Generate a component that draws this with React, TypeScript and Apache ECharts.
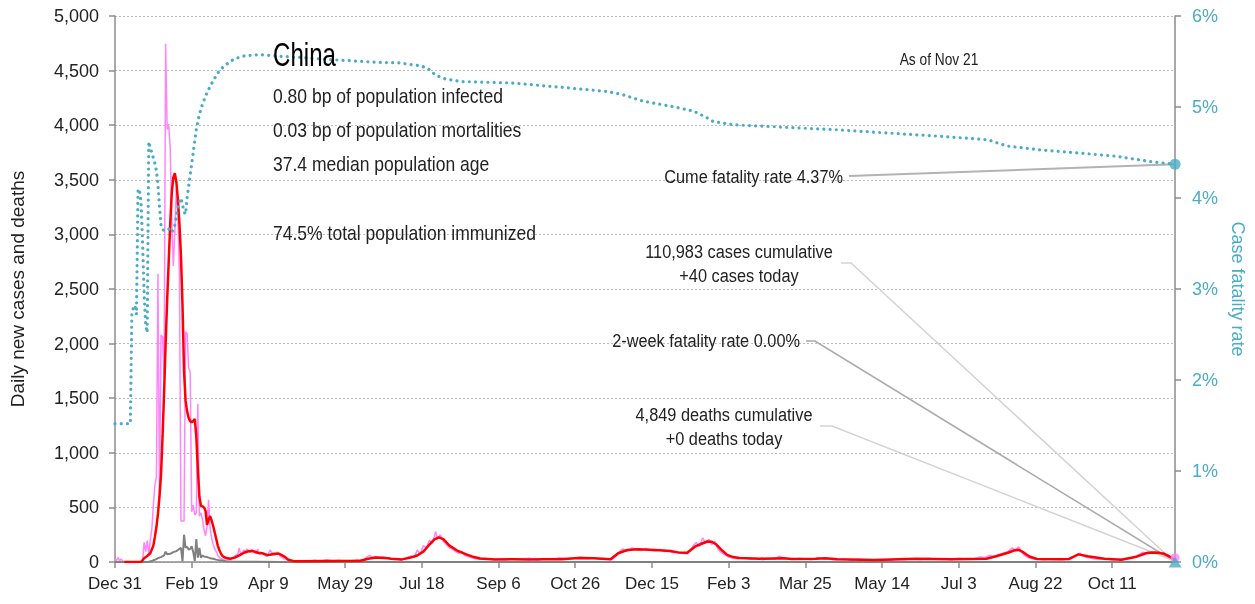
import React, { useEffect, useRef } from 'react';
import * as echarts from 'echarts';

const FONT = "'Liberation Sans', Arial, sans-serif";

// x axis: days since Dec 31, 2019
const tickStep = 50;
const lastDay = 691;
const xTickLabels = ['Dec 31', 'Feb 19', 'Apr 9', 'May 29', 'Jul 18', 'Sep 6', 'Oct 26', 'Dec 15', 'Feb 3', 'Mar 25', 'May 14', 'Jul 3', 'Aug 22', 'Oct 11'];

// daily new cases [day, cases]
const dailyCases: [number, number][] = [
  [0, 30], [1, 12], [2, 40], [3, 8], [4, 28], [5, 10], [6, 0], [10, 0], [14, 0], [17, 0], [18, 10], [19, 180], [20, 95], [21, 195], [22, 70],
  [23, 200], [24, 300], [25, 520], [26, 700], [27, 780], [28, 2640], [29, 580], [30, 2080], [31, 2060], [32, 1690], [33, 4745],
  [34, 3960], [35, 4010], [36, 3790], [37, 3120], [38, 2710], [39, 3030], [40, 3420], [41, 3180], [42, 2620], [43, 375], [44, 375],
  [45, 375], [46, 2110], [47, 2090], [48, 1780], [49, 1740], [50, 460], [51, 520], [52, 430], [53, 450], [54, 1450], [55, 420],
  [56, 450], [57, 390], [58, 300], [59, 240], [60, 330], [61, 570], [62, 310], [63, 220], [64, 160], [65, 120], [66, 95], [67, 60],
  [68, 40], [69, 30], [70, 25], [72, 15], [74, 25], [76, 30], [78, 55], [80, 70], [81, 130], [82, 60], [84, 110], [85, 95], [86, 120],
  [88, 90], [89, 115], [90, 100], [92, 80], [93, 120], [94, 70], [96, 85], [98, 60], [99, 50], [100, 75], [101, 110], [102, 90],
  [104, 60], [105, 80], [106, 90], [108, 50], [110, 30], [112, 20], [114, 15], [116, 8], [118, 10], [120, 5], [122, 12], [126, 5],
  [130, 15], [134, 8], [138, 20], [142, 10], [146, 15], [150, 6], [154, 12], [158, 20], [162, 10], [164, 45], [166, 60], [168, 40],
  [170, 50], [172, 35], [175, 30], [178, 40], [181, 25], [184, 30], [187, 20], [190, 35], [193, 55], [195, 40], [197, 110], [199, 70],
  [201, 150], [203, 130], [205, 200], [207, 170], [209, 280], [210, 210], [212, 250], [214, 190], [216, 160], [218, 130], [220, 115],
  [222, 95], [224, 80], [226, 100], [228, 60], [230, 50], [232, 40], [235, 30], [238, 25], [242, 30], [246, 22], [250, 28], [255, 20],
  [260, 30], [265, 25], [270, 35], [275, 18], [280, 30], [285, 25], [290, 40], [295, 30], [300, 35], [304, 45], [308, 30], [312, 40],
  [316, 28], [320, 30], [324, 20], [327, 60], [329, 95], [331, 120], [334, 100], [337, 130], [340, 115], [343, 105], [346, 125],
  [349, 110], [352, 100], [355, 115], [358, 95], [361, 100], [364, 85], [367, 90], [370, 80], [373, 75], [375, 110], [377, 150],
  [379, 180], [381, 140], [383, 220], [385, 170], [387, 210], [389, 160], [391, 190], [393, 120], [395, 90], [397, 70], [400, 45],
  [403, 35], [406, 30], [410, 40], [414, 25], [418, 35], [422, 20], [426, 30], [430, 25], [433, 55], [435, 40], [438, 30], [442, 25],
  [446, 35], [450, 28], [454, 20], [458, 40], [462, 30], [466, 25], [470, 20], [475, 30], [480, 15], [485, 25], [490, 18], [495, 12],
  [500, 20], [505, 15], [510, 25], [515, 20], [520, 30], [525, 22], [530, 35], [535, 25], [540, 30], [545, 20], [550, 35], [555, 28],
  [560, 30], [564, 45], [567, 40], [570, 60], [573, 50], [576, 70], [579, 80], [582, 95], [585, 130], [587, 110], [589, 140],
  [591, 90], [593, 60], [595, 40], [598, 30], [602, 25], [606, 20], [610, 30], [614, 25], [618, 20], [622, 35], [625, 50], [627, 65],
  [629, 80], [631, 55], [634, 40], [638, 30], [642, 25], [646, 30], [650, 20], [654, 25], [658, 30], [662, 35], [665, 50], [668, 70],
  [670, 90], [672, 75], [674, 100], [676, 80], [678, 95], [680, 70], [682, 85], [684, 60], [686, 70], [688, 45], [690, 55], [691, 40],
];

// 7-day average of new cases [day, cases]
const avgCases: [number, number][] = [
  [6, 0], [17, 0], [19, 35], [21, 55], [23, 80], [25, 150], [26, 230], [27, 320], [28, 440], [29, 600], [30, 800], [31, 1150],
  [32, 1550], [33, 2000], [34, 2400], [35, 2750], [36, 3100], [37, 3380], [38, 3520], [39, 3560], [40, 3480], [41, 3320],
  [42, 3100], [43, 2800], [44, 2350], [45, 1750], [46, 1480], [47, 1380], [48, 1320], [49, 1290], [50, 1280], [51, 1290],
  [52, 1310], [53, 1150], [54, 850], [55, 600], [56, 515], [57, 510], [58, 500], [59, 470], [60, 340], [61, 390], [62, 420],
  [63, 380], [64, 330], [65, 270], [66, 210], [67, 150], [68, 110], [69, 80], [70, 55], [72, 38], [75, 30], [78, 40], [81, 60],
  [84, 85], [87, 98], [90, 100], [93, 85], [96, 80], [99, 65], [101, 66], [104, 76], [107, 75], [109, 60], [111, 45], [113, 20],
  [116, 10], [120, 8], [140, 10], [160, 12], [165, 30], [170, 42], [175, 38], [180, 30], [187, 24], [192, 38], [197, 60],
  [201, 95], [205, 160], [208, 205], [211, 225], [214, 210], [218, 150], [223, 105], [229, 70], [234, 45], [238, 32], [248, 24],
  [260, 25], [270, 22], [280, 25], [291, 26], [302, 36], [312, 35], [323, 25], [328, 80], [334, 110], [341, 116], [348, 112],
  [355, 108], [362, 100], [367, 88], [373, 84], [378, 140], [382, 165], [386, 188], [389, 185], [392, 160], [395, 115], [399, 65],
  [403, 45], [407, 36], [420, 30], [436, 35], [441, 28], [457, 30], [463, 35], [471, 25], [495, 18], [522, 30], [545, 25],
  [568, 30], [575, 55], [582, 85], [586, 105], [589, 112], [592, 90], [596, 50], [601, 28], [615, 25], [622, 28], [628, 70],
  [634, 52], [645, 30], [656, 20], [665, 45], [672, 80], [676, 88], [680, 85], [684, 75], [688, 45], [691, 15],
];

// daily deaths [day, deaths]
const dailyDeaths: [number, number][] = [
  [0, 0], [20, 0], [22, 3], [24, 10], [26, 20], [28, 35], [30, 45], [32, 60], [33, 95], [34, 70], [36, 75], [38, 90], [40, 100],
  [41, 110], [42, 120], [43, 130], [44, 5], [45, 250], [46, 130], [47, 140], [48, 115], [49, 120], [50, 145], [51, 90], [52, 10],
  [53, 210], [54, 40], [55, 130], [56, 40], [57, 60], [58, 50], [60, 45], [62, 35], [64, 30], [66, 22], [68, 15], [70, 12],
  [72, 8], [76, 5], [80, 3], [90, 2], [110, 1], [200, 1], [400, 1], [691, 0],
];

// cumulative case fatality rate [day, %]
const fatalityRate: [number, number][] = [
  [0, 1.52], [10, 1.52], [11, 2.75], [12, 2.79], [13, 2.82], [14, 2.72], [15, 4.1], [16, 4.08], [17, 3.95], [18, 3.5], [19, 2.95],
  [20, 2.6], [21, 2.52], [22, 4.62], [23, 4.55], [24, 4.5], [25, 4.44], [26, 4.38], [27, 4.3], [28, 4.15], [29, 3.9], [30, 3.7],
  [31, 3.65], [33, 3.64], [35, 3.66], [37, 3.62], [39, 3.7], [41, 3.9], [43, 4.0], [45, 3.85], [46, 3.82], [47, 4.0], [49, 4.25],
  [51, 4.5], [53, 4.75], [55, 4.92], [57, 5.03], [60, 5.16], [64, 5.29], [68, 5.4], [72, 5.46], [76, 5.51], [80, 5.54],
  [85, 5.565], [95, 5.575], [105, 5.56], [120, 5.545], [141, 5.52], [172, 5.49], [185, 5.485], [200, 5.45], [205, 5.41],
  [209, 5.35], [215, 5.31], [225, 5.28], [258, 5.265], [295, 5.21], [321, 5.17], [331, 5.135], [344, 5.065], [365, 5.0],
  [377, 4.955], [385, 4.89], [390, 4.84], [403, 4.805], [470, 4.75], [536, 4.68], [569, 4.64], [576, 4.6], [582, 4.57],
  [602, 4.53], [652, 4.46], [675, 4.4], [691, 4.37],
];

const twoWeekFatality = 0.0;
const todayCases = 40;

const titleText = 'China';
const infoLines = [
  '0.80 bp of population infected',
  '0.03 bp of population mortalities',
  '37.4 median population age',
  '',
  '74.5% total population immunized',
];
const asOfText = 'As of Nov 21';
const cumeText = 'Cume fatality rate 4.37%';
const casesText = ['110,983 cases cumulative', '+40 cases today'];
const twoWeekText = '2-week fatality rate 0.00%';
const deathsText = ['4,849 deaths cumulative', '+0 deaths today'];

const TEAL = '#4BACC6';
const PINK = '#FF85FF';
const RED = '#FF0000';
const GREY = '#808080';
const AXIS = '#8c8c8c';
const TXT = '#222222';

export default function App() {
  const ref = useRef<HTMLDivElement>(null);
  useEffect(() => {
    if (!ref.current) return;
    document.documentElement.style.overflow = 'hidden';
    document.body.style.margin = '0';
    const chart = echarts.init(ref.current, undefined, { renderer: 'svg', width: 1255, height: 604 });
    const option: any = {
      animation: false,
      grid: { left: 115, right: 74, top: 16, bottom: 42 },
      xAxis: {
        type: 'value',
        min: 0,
        max: lastDay,
        interval: tickStep,
        axisLine: { show: true, lineStyle: { color: AXIS, width: 1.5 } },
        axisTick: { show: true, length: 6, lineStyle: { color: AXIS, width: 1.5 } },
        axisLabel: {
          formatter: (v: number) => (v % tickStep === 0 ? xTickLabels[v / tickStep] || '' : ''),
          showMaxLabel: false,
          color: TXT,
          fontSize: 17,
          fontFamily: FONT,
          margin: 13,
        },
        splitLine: { show: false },
      },
      yAxis: [
        {
          type: 'value',
          min: 0,
          max: 5000,
          interval: 500,
          name: 'Daily new cases and deaths',
          nameLocation: 'middle',
          nameGap: 88,
          nameTextStyle: { color: TXT, fontSize: 19, fontFamily: FONT },
          axisLine: { show: true, lineStyle: { color: AXIS, width: 1.5 } },
          axisTick: { show: true, length: 6, lineStyle: { color: AXIS, width: 1.5 } },
          axisLabel: {
            formatter: (v: number) => v.toLocaleString('en-US'),
            color: TXT,
            fontSize: 18,
            fontFamily: FONT,
            margin: 16,
          },
          splitLine: { show: true, lineStyle: { color: '#bdbdbd', width: 1, type: [2, 2] } },
        },
        {
          type: 'value',
          min: 0,
          max: 6,
          interval: 1,
          position: 'right',
          name: 'Case fatality rate',
          nameLocation: 'middle',
          nameGap: 47,
          nameRotate: -90,
          nameTextStyle: { color: TEAL, fontSize: 18, fontFamily: FONT },
          axisLine: { show: true, lineStyle: { color: AXIS, width: 1.5 } },
          axisTick: { show: true, length: 6, lineStyle: { color: AXIS, width: 1.5 } },
          axisLabel: {
            formatter: (v: number) => v + '%',
            color: TEAL,
            fontSize: 18,
            fontFamily: FONT,
            margin: 17,
          },
          splitLine: { show: false },
        },
      ],
      series: [
        {
          type: 'line', name: 'Daily cases', data: dailyCases, showSymbol: false, symbol: 'none',
          lineStyle: { color: PINK, width: 1.5 }, z: 2,
        },
        {
          type: 'line', name: 'Daily deaths', data: dailyDeaths, showSymbol: false, symbol: 'none',
          lineStyle: { color: GREY, width: 2 }, z: 3,
        },
        {
          type: 'line', name: '7-day average', data: avgCases, showSymbol: false, symbol: 'none',
          lineStyle: { color: RED, width: 2.5 }, z: 4,
        },
        {
          type: 'line', name: 'Case fatality rate', data: fatalityRate, yAxisIndex: 1, showSymbol: false, symbol: 'none',
          lineStyle: { color: TEAL, width: 3.2, type: [0.01, 6.2], cap: 'round' }, z: 5,
        },
        {
          type: 'scatter', yAxisIndex: 0, clip: false, z: 6,
          data: [[lastDay, todayCases]], symbol: 'circle', symbolSize: 9, itemStyle: { color: PINK },
        },
        {
          type: 'scatter', yAxisIndex: 1, clip: false, z: 7,
          data: [[lastDay, fatalityRate[fatalityRate.length - 1][1]]], symbol: 'circle', symbolSize: 11, itemStyle: { color: TEAL },
        },
        {
          type: 'scatter', yAxisIndex: 1, clip: false, z: 7,
          data: [[lastDay, twoWeekFatality]], symbol: 'triangle', symbolSize: [13, 11], itemStyle: { color: TEAL },
        },
      ],
    };
    chart.setOption(option);

    const endRate = chart.convertToPixel({ xAxisIndex: 0, yAxisIndex: 1 }, [lastDay, fatalityRate[fatalityRate.length - 1][1]]) as number[];
    const endZero = chart.convertToPixel({ xAxisIndex: 0, yAxisIndex: 1 }, [lastDay, twoWeekFatality]) as number[];
    const ez = [endZero[0] - 3, endZero[1] - 2];

    const txt = (text: string, x: number, y: number, size: number, align: string, sx: number, color = TXT) => ({
      type: 'text', x, y, scaleX: sx, z: 10,
      style: { text, fontSize: size, fontFamily: FONT, fill: color, align, verticalAlign: 'middle' },
    });
    const infoY = [95, 129, 163, 197, 232];
    const graphic: any[] = [txt(titleText, 273, 55, 33, 'left', 0.73, '#000')];
    infoLines.forEach((l, i) => { if (l) graphic.push(txt(l, 273, infoY[i], 21, 'left', 0.835)); });
    graphic.push(txt(asOfText, 939, 59, 16, 'center', 0.86));
    graphic.push(txt(cumeText, 843, 177, 19, 'right', 0.86));
    graphic.push(txt(casesText[0], 739, 252, 19, 'center', 0.86));
    graphic.push(txt(casesText[1], 739, 276, 19, 'center', 0.86));
    graphic.push(txt(twoWeekText, 800, 341, 19, 'right', 0.86));
    graphic.push(txt(deathsText[0], 724, 415, 19, 'center', 0.86));
    graphic.push(txt(deathsText[1], 724, 439, 19, 'center', 0.86));
    const poly = (pts: number[][], color: string, width: number) => ({
      type: 'polyline', z: 4, shape: { points: pts }, style: { stroke: color, lineWidth: width, fill: null },
    });
    graphic.push(poly([[849, 176], [endRate[0], endRate[1]]], '#b3b3b3', 2));
    graphic.push(poly([[841, 263], [851, 263], ez], '#d3d3d3', 1.5));
    graphic.push(poly([[806, 341], [815, 341], ez], '#ababab', 1.5));
    graphic.push(poly([[820, 426], [832, 426], ez], '#d3d3d3', 1.5));
    chart.setOption({ graphic });

    return () => chart.dispose();
  }, []);
  return <div ref={ref} style={{ position: 'fixed', left: 0, top: 0, width: 1255, height: 604 }} />;
}
